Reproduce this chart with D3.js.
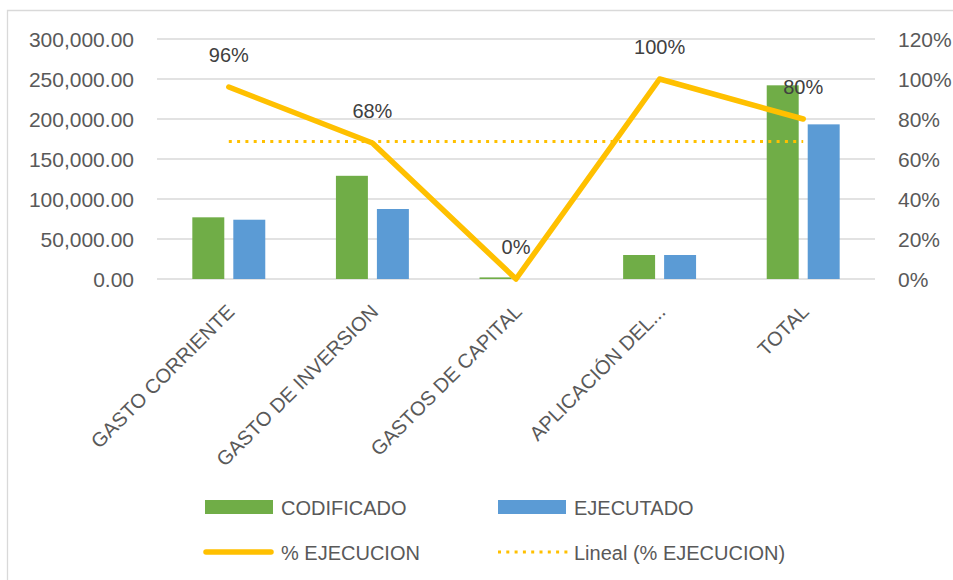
<!DOCTYPE html>
<html>
<head>
<meta charset="utf-8">
<script src="https://cdn.jsdelivr.net/npm/d3@7"></script>
<style>
  html, body { margin: 0; padding: 0; background: #fff; }
  svg { display: block; }
  text { font-family: "Liberation Sans", Arial, sans-serif; }
</style>
</head>
<body>
<svg id="chart" width="953" height="580"></svg>
<script>
// ---- data ----
const categories = ["GASTO CORRIENTE", "GASTO DE INVERSION", "GASTOS DE CAPITAL", "APLICACIÓN DEL...", "TOTAL"];
const codificado = [77100, 129000, 2000, 30000, 242100];
const ejecutado  = [74100, 87500, 0, 30000, 193300];
const pctEjecucion = [0.96, 0.68, 0.00, 1.00, 0.80];
const leftTicks  = [0, 50000, 100000, 150000, 200000, 250000, 300000];
const rightTicks = [0, 0.2, 0.4, 0.6, 0.8, 1.0, 1.2];
const seriesNames = ["CODIFICADO", "EJECUTADO"];
const legendLabels = ["CODIFICADO", "EJECUTADO", "% EJECUCION", "Lineal (% EJECUCION)"];

const colors = { CODIFICADO: "#70AD47", EJECUTADO: "#5B9BD5", line: "#FFC000" };
const textColor = "#595959", labelColor = "#404040", gridColor = "#D9D9D9";

// ---- layout ----
const svg = d3.select("#chart");
const plot = { left: 157, right: 875, top: 39, bottom: 279 };

// chart border
svg.append("path")
  .attr("d", `M7.5,${580 + 5} V10.5 H${953 + 5}`)
  .attr("fill", "none").attr("stroke", gridColor).attr("stroke-width", 1.3);

const x0 = d3.scaleBand().domain(categories).range([plot.left, plot.right]).padding(0);
const groupW = x0.bandwidth() * 0.508;
const x1 = d3.scaleBand().domain(seriesNames).range([-groupW / 2, groupW / 2]).paddingInner(0.22);
const yL = d3.scaleLinear().domain([0, 300000]).range([plot.bottom, plot.top]);
const yR = d3.scaleLinear().domain([0, 1.2]).range([plot.bottom, plot.top]);

// gridlines
svg.append("g").selectAll("line").data(leftTicks).join("line")
  .attr("x1", plot.left).attr("x2", plot.right)
  .attr("y1", d => yL(d)).attr("y2", d => yL(d))
  .attr("stroke", gridColor).attr("stroke-width", 1.3);

// left axis
const fmtL = d3.format(",.2f");
const axL = d3.axisLeft(yL).tickValues(leftTicks).tickFormat(fmtL).tickSize(0).tickPadding(0);
const gL = svg.append("g").attr("transform", "translate(134,0)").call(axL);
gL.select(".domain").remove();
gL.selectAll("text").attr("fill", textColor).style("font-size", "21px")
  .style("font-family", '"Liberation Sans", Arial, sans-serif').attr("dy", "0.36em");

// right axis
const axR = d3.axisRight(yR).tickValues(rightTicks).tickFormat(d3.format(".0%")).tickSize(0).tickPadding(0);
const gR = svg.append("g").attr("transform", "translate(898,0)").call(axR);
gR.select(".domain").remove();
gR.selectAll("text").attr("fill", textColor).style("font-size", "21px")
  .style("font-family", '"Liberation Sans", Arial, sans-serif').attr("dy", "0.36em");

// bars
const rows = categories.map((c, i) => ({ cat: c, vals: [
  { key: "CODIFICADO", v: codificado[i] }, { key: "EJECUTADO", v: ejecutado[i] } ] }));
const cx = c => x0(c) + x0.bandwidth() / 2;
svg.append("g").selectAll("g").data(rows).join("g")
  .attr("transform", d => `translate(${cx(d.cat)},0)`)
  .selectAll("rect").data(d => d.vals).join("rect")
  .attr("x", d => x1(d.key)).attr("width", x1.bandwidth())
  .attr("y", d => yL(d.v)).attr("height", d => yL(0) - yL(d.v))
  .attr("fill", d => colors[d.key]);

// trend line (linear regression of % ejecucion over category index)
const n = pctEjecucion.length;
const xs = d3.range(1, n + 1);
const mx = d3.mean(xs), my = d3.mean(pctEjecucion);
const slope = d3.sum(xs, (xv, i) => (xv - mx) * (pctEjecucion[i] - my)) / d3.sum(xs, xv => (xv - mx) ** 2);
const icpt = my - slope * mx;
svg.append("line")
  .attr("x1", cx(categories[0])).attr("x2", cx(categories[n - 1]))
  .attr("y1", yR(icpt + slope * 1)).attr("y2", yR(icpt + slope * n))
  .attr("stroke", colors.line).attr("stroke-width", 3).attr("stroke-dasharray", "3 5.3");

// % line
const lineGen = d3.line().x((d, i) => cx(categories[i])).y(d => yR(d));
svg.append("path").datum(pctEjecucion).attr("d", lineGen)
  .attr("fill", "none").attr("stroke", colors.line).attr("stroke-width", 5.5)
  .attr("stroke-linejoin", "round").attr("stroke-linecap", "round");

// data labels
svg.append("g").selectAll("text").data(pctEjecucion).join("text")
  .attr("x", (d, i) => cx(categories[i])).attr("y", d => yR(d) - 25)
  .attr("text-anchor", "middle").attr("fill", labelColor).style("font-size", "20px")
  .text(d => d3.format(".0%")(d));

// x labels
svg.append("g").selectAll("text").data(categories).join("text")
  .attr("transform", d => `translate(${cx(d) + 7},313) rotate(-45)`)
  .attr("text-anchor", "end").attr("fill", textColor).style("font-size", "20px")
  .text(d => d);

// legend
const lg = svg.append("g");
const col = [205, 498];
const txtX = [281, 574];
const rowY = [507, 552];
// row 1: bars
[0, 1].forEach(i => {
  lg.append("rect").attr("x", col[i]).attr("y", rowY[0] - 7).attr("width", 68).attr("height", 14)
    .attr("fill", colors[seriesNames[i]]);
});
// row 2: line + trend
lg.append("line").attr("x1", 206).attr("x2", 271).attr("y1", rowY[1]).attr("y2", rowY[1])
  .attr("stroke", colors.line).attr("stroke-width", 5.5).attr("stroke-linecap", "round");
lg.append("line").attr("x1", 498).attr("x2", 568).attr("y1", rowY[1]).attr("y2", rowY[1])
  .attr("stroke", colors.line).attr("stroke-width", 3).attr("stroke-dasharray", "3 5.3");
legendLabels.forEach((t, i) => {
  lg.append("text").attr("x", txtX[i % 2]).attr("y", rowY[Math.floor(i / 2)] + 7.5)
    .attr("fill", textColor).style("font-size", "20px").text(t);
});
</script>
</body>
</html>
